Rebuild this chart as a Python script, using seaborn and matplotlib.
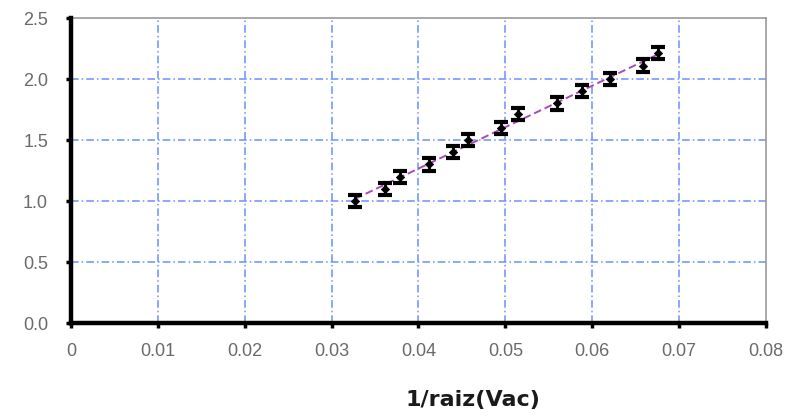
import numpy as np
import pandas as pd
import matplotlib
matplotlib.use("Agg")
import matplotlib.pyplot as plt
import seaborn as sns
from matplotlib.ticker import FuncFormatter

# data
inv_sqrt_v = [0.0327, 0.0361, 0.0379, 0.0412, 0.0440, 0.0457, 0.0495,
              0.0515, 0.0559, 0.0588, 0.0620, 0.0659, 0.0676]
y_values = [1.00, 1.10, 1.20, 1.30, 1.40, 1.50, 1.60,
            1.71, 1.80, 1.90, 2.00, 2.11, 2.21]
y_err = [0.05] * 13
x_ticks = [0, 0.01, 0.02, 0.03, 0.04, 0.05, 0.06, 0.07, 0.08]
y_ticks = [0.0, 0.5, 1.0, 1.5, 2.0, 2.5]
x_label = "1/raiz(Vac)"

df = pd.DataFrame({"x": inv_sqrt_v, "y": y_values, "err": y_err})

sns.set_theme(style="white")
plt.rcParams["font.family"] = ["Liberation Sans", "DejaVu Sans"]

fig = plt.figure(figsize=(7.87, 4.19), dpi=100)
ax = fig.add_axes([0.0902, 0.2291, 0.8831, 0.7279])

# grid
grid_kw = dict(color="#6a8fff", linestyle=(0, (5, 2, 1, 2)), linewidth=1.1, zorder=0)
for xv in x_ticks[1:-1]:
    ax.axvline(xv, **grid_kw)
for yv in y_ticks[1:-1]:
    ax.axhline(yv, **grid_kw)

# trend line
sns.regplot(data=df, x="x", y="y", scatter=False, ci=None, truncate=True,
            line_kws=dict(color="#a84ab8", linestyle=(0, (4, 2)), linewidth=1.4, zorder=2),
            ax=ax)

# error bars
ax.errorbar(df["x"], df["y"], yerr=df["err"], fmt="none", ecolor="black",
            elinewidth=2.0, capsize=5, capthick=3, zorder=3)
sns.scatterplot(data=df, x="x", y="y", marker="D", s=18, color="black",
                edgecolor="black", linewidth=0.5, ax=ax, zorder=4)

ax.set_xlim(0, 0.08)
ax.set_ylim(0, 2.5)
ax.set_xticks(x_ticks)
ax.set_yticks(y_ticks)
ax.xaxis.set_major_formatter(FuncFormatter(lambda v, p: f"{v:g}"))
ax.yaxis.set_major_formatter(FuncFormatter(lambda v, p: f"{v:.1f}"))
ax.tick_params(axis="both", which="major", direction="out", length=3.5, width=2.5,
               color="black", labelsize=13, labelcolor="#6a6a6a", bottom=True, left=True)
ax.tick_params(axis="x", pad=11)
ax.tick_params(axis="y", pad=13)

for side in ["left", "bottom"]:
    ax.spines[side].set_color("black")
    ax.spines[side].set_linewidth(3.2)
for side in ["top", "right"]:
    ax.spines[side].set_color("#999999")
    ax.spines[side].set_linewidth(1.2)
ax.spines["left"].set_zorder(5)
ax.spines["bottom"].set_zorder(5)

ax.set_ylabel("")
ax.set_xlabel(x_label, fontsize=16, fontweight="bold", family="DejaVu Sans",
              color="#1a1a1a")
ax.xaxis.set_label_coords(0.578, -0.22)
ax.xaxis.label.set_va("top")

fig.savefig("out.png", dpi=100)
